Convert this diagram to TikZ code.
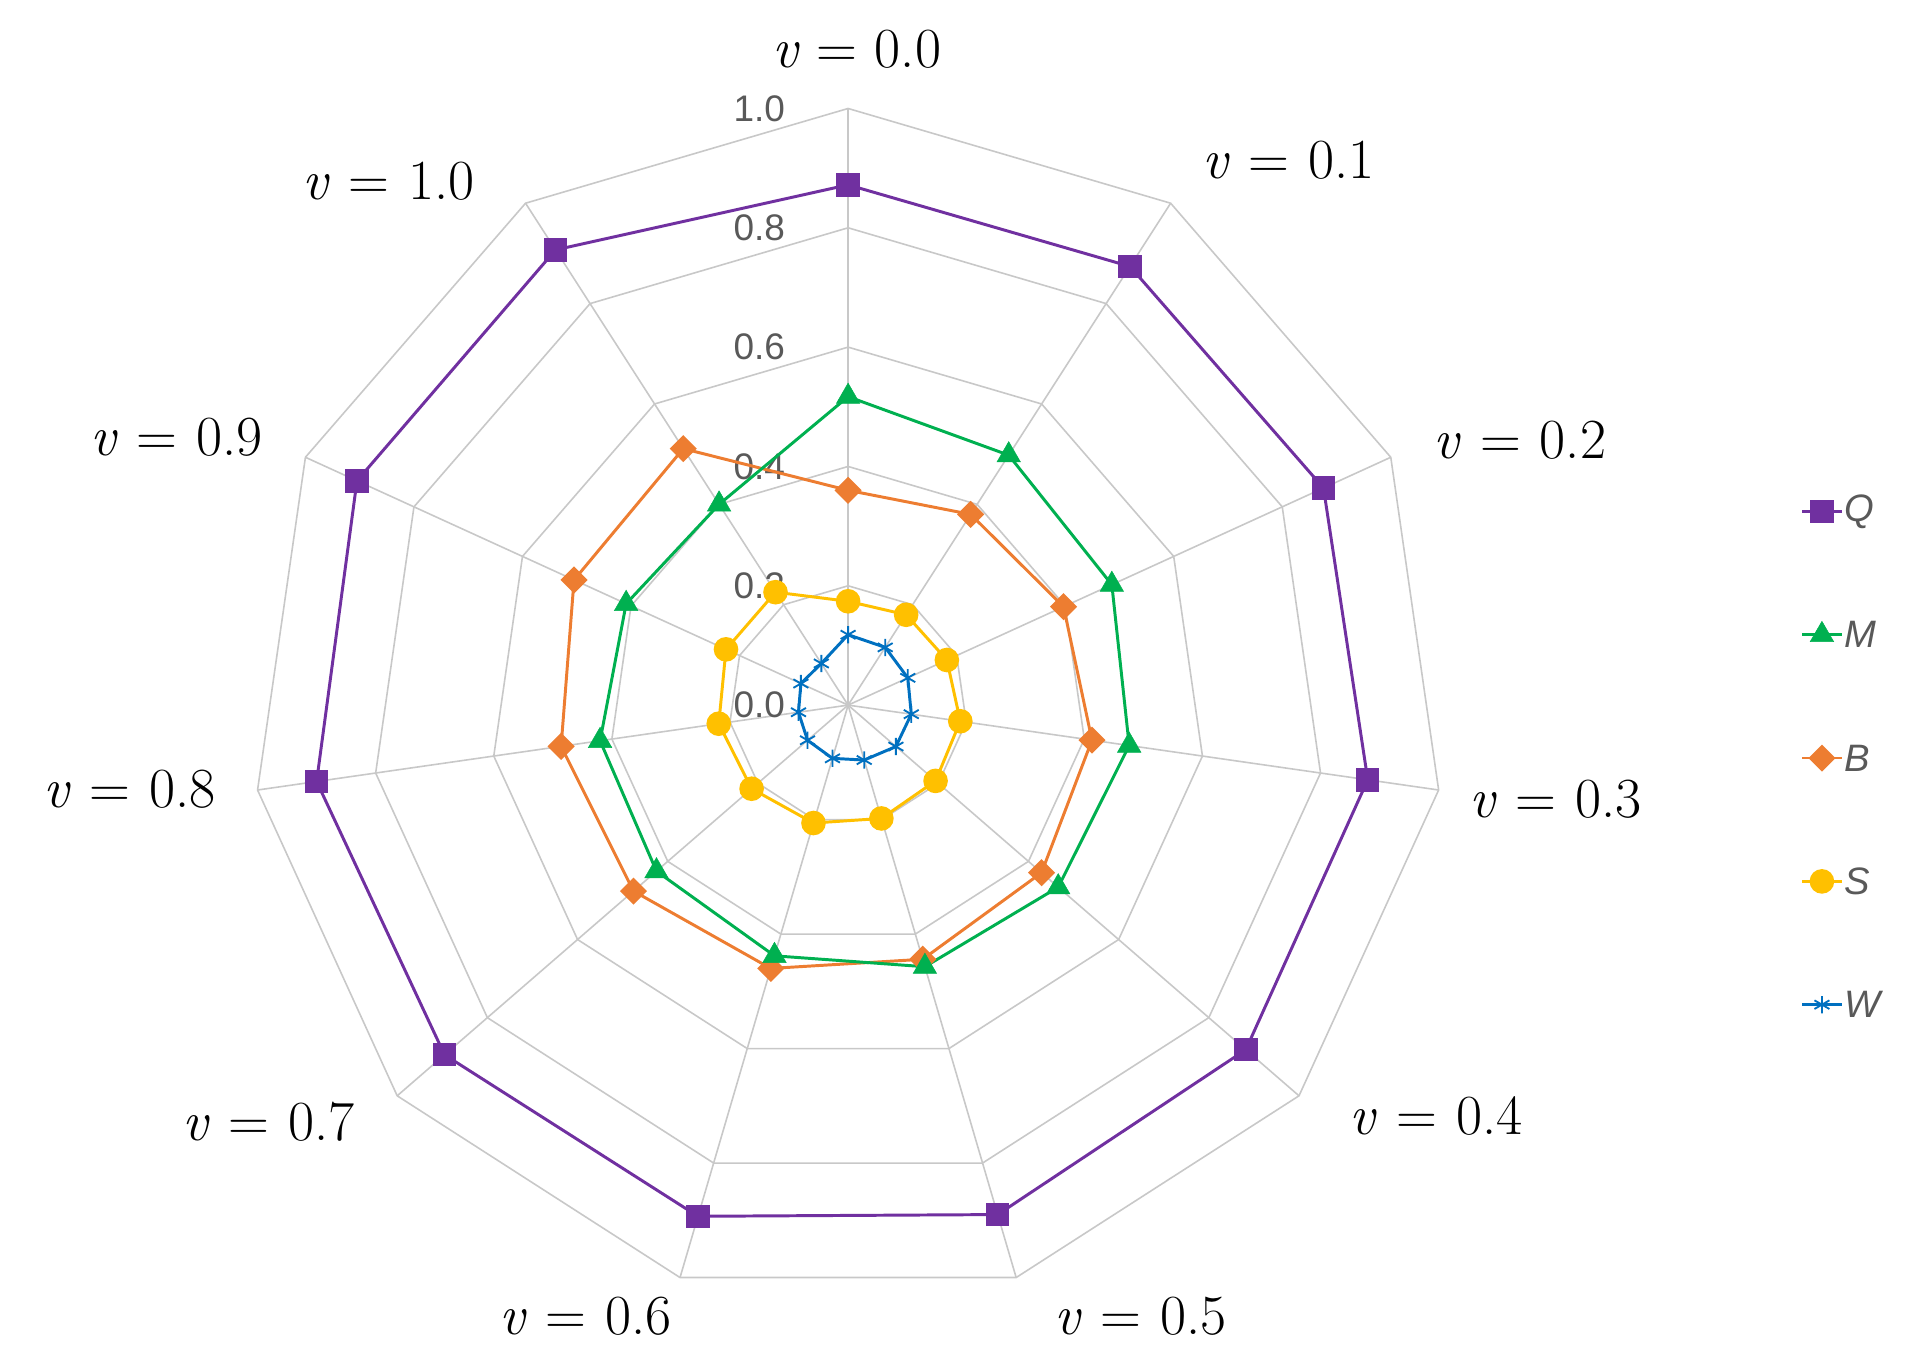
\documentclass[tikz,border=0pt]{standalone}
\usepackage{fontspec}
\setsansfont{Liberation Sans}
\usetikzlibrary{plotmarks}
\definecolor{qc}{HTML}{7030A0}
\definecolor{mc}{HTML}{00B050}
\definecolor{bc}{HTML}{ED7D31}
\definecolor{sc}{HTML}{FFC000}
\definecolor{wc}{HTML}{0070C0}
\definecolor{gridc}{HTML}{C8C8C8}
\definecolor{tickc}{HTML}{595959}
\newcommand{\vlab}[1]{\textit{v}\,\,=\,\,#1}
\begin{document}
\begin{tikzpicture}[x=1pt,y=1pt,
  gridline/.style={gridc,line width=1.3pt},
  axlab/.style={font=\fontsize{46}{52}\selectfont},
  ticklab/.style={font=\sffamily\fontsize{30}{36}\selectfont,text=tickc,anchor=east,inner sep=0},
  leglab/.style={font=\sffamily\itshape\fontsize{31}{36}\selectfont,text=tickc,anchor=west,inner sep=0},
  series/.style={line width=2.4pt}]
\useasboundingbox (0,0) rectangle (1560,-1110.6);
\coordinate (O) at (688,-572);
% grid
\foreach \k [count=\n] in {0.2,0.4,0.6,0.8,1.0}{
  \foreach \i in {0,...,10}
    \coordinate (R\n-\i) at ({688+484*\k*cos(90-\i*360/11)},{-572+484*\k*sin(90-\i*360/11)});
  \draw[gridline] (R\n-0) \foreach \i in {1,...,10}{-- (R\n-\i)} -- cycle;
}
\foreach \i in {0,...,10}{
  \draw[gridline] (O) -- (R5-\i);
}
% tick labels
\foreach \t [count=\k from 0] in {0.0,0.2,0.4,0.6,0.8,1.0}
  \node[ticklab] (T\k) at (637,{-572+96.8*\k}) {\t};
% axis labels
\node[axlab] (L0) at (695,-40) {\textit{v} = 0.0};
\node[axlab] (L1) at (1045,-130) {\vlab{0.1}};
\node[axlab] (L2) at (1233,-357) {\vlab{0.2}};
\node[axlab] (L3) at (1262,-648) {\vlab{0.3}};
\node[axlab] (L4) at (1165,-905) {\vlab{0.4}};
\node[axlab] (L5) at (925,-1068) {\vlab{0.5}};
\node[axlab] (L6) at (475,-1068) {\vlab{0.6}};
\node[axlab] (L7) at (218,-910) {\vlab{0.7}};
\node[axlab] (L8) at (105,-640) {\vlab{0.8}};
\node[axlab] (L9) at (143,-355) {\vlab{0.9}};
\node[axlab] (L10) at (315,-147) {\vlab{1.0}};
% data
\foreach \nm/\vals in {
  W/{.118,.115,.11,.107,.106,.096,.093,.09,.084,.087,.083},
  S/{.174,.18,.182,.19,.194,.198,.206,.214,.219,.225,.225},
  B/{.36,.38,.397,.413,.429,.444,.46,.476,.486,.505,.511},
  M/{.517,.498,.486,.476,.466,.457,.438,.425,.42,.409,.40},
  Q/{.872,.874,.876,.88,.882,.89,.893,.895,.90,.905,.907}}{
  \foreach \r [count=\i from 0] in \vals
    \coordinate (\nm\i) at ({688+484*\r*cos(90-\i*360/11)},{-572+484*\r*sin(90-\i*360/11)});
}
\draw[series,wc] (W0) \foreach \i in {1,...,10}{-- (W\i)} -- cycle;
\draw[series,sc] (S0) \foreach \i in {1,...,10}{-- (S\i)} -- cycle;
\draw[series,bc] (B0) \foreach \i in {1,...,10}{-- (B\i)} -- cycle;
\draw[series,mc] (M0) \foreach \i in {1,...,10}{-- (M\i)} -- cycle;
\draw[series,qc] (Q0) \foreach \i in {1,...,10}{-- (Q\i)} -- cycle;
\foreach \i in {0,...,10}{
  \draw[wc,line width=1.5pt] plot[mark=asterisk,mark size=7] coordinates {(W\i)};
  \fill[sc] (S\i) circle (10);
  \fill[bc] (B\i) +(0,11) -- +(11,0) -- +(0,-11) -- +(-11,0) -- cycle;
  \fill[mc] plot[mark=triangle*,mark size=11,mark options={mc}] coordinates {(M\i)};
  \fill[qc] (Q\i) ++(-9.5,-9.5) rectangle ++(19,19);
}
% legend
\foreach \nm/\c/\y in {Q/qc/415,M/mc/515,B/bc/615,S/sc/715,W/wc/815}{
  \coordinate (G\nm a) at (1462,-\y); \coordinate (G\nm b) at (1494,-\y);
  \draw[\c,line width=2.2pt] (G\nm a) -- (G\nm b);
  \node[leglab] (GL\nm) at (1496,-\y) {\nm};
}
\fill[qc] (1468.5,-424.5) rectangle ++(19,19);
\fill[mc] plot[mark=triangle*,mark size=11,mark options={mc}] coordinates {(1478,-515)};
\fill[bc] (1478,-615) +(0,11) -- +(11,0) -- +(0,-11) -- +(-11,0) -- cycle;
\fill[sc] (1478,-715) circle (10);
\draw[wc,line width=1.5pt] plot[mark=asterisk,mark size=7] coordinates {(1478,-815)};
\end{tikzpicture}
\end{document}
